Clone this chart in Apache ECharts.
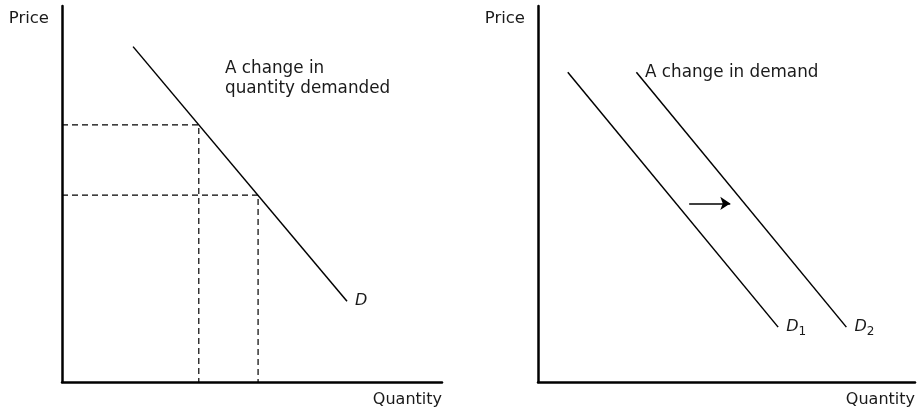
<!DOCTYPE html>
<html>
<head>
<meta charset="utf-8">
<script src="https://cdn.jsdelivr.net/npm/echarts@6/dist/echarts.min.js"></script>
<style>
  html, body { margin: 0; padding: 0; background: #fff; }
  #chart { width: 918px; height: 412px; }
</style>
</head>
<body>
<div id="chart"></div>
<script>
// both panels use a 0..10 price / quantity scale
const axisRange = [0, 10];

// left panel: movement along one demand curve
const demandD = [[1.87, 8.92], [7.5, 2.15]];
const pointA = [3.6, 6.84];
const pointB = [5.16, 4.97];

// right panel: shift of the demand curve
const demandD1 = [[0.79, 8.24], [6.37, 1.46]];
const demandD2 = [[2.61, 8.24], [8.18, 1.46]];
const shiftArrow = [[4.01, 4.75], [5.1, 4.75]];

const axisNames = { x: 'Quantity', y: 'Price' };
const notes = ['A change in\nquantity demanded', 'A change in demand'];

const FONT = 'DejaVu Sans';
const INK = '#1a1a1a';

function dropLines(p) {
    return [[axisRange[0], p[1]], [p[0], p[1]], [p[0], axisRange[0]]];
}

function makeX(idx) {
    return {
        type: 'value', gridIndex: idx, min: axisRange[0], max: axisRange[1],
        name: axisNames.x, nameLocation: 'end', nameGap: 0,
        nameTextStyle: { fontFamily: FONT, fontSize: 16, color: INK, align: 'right', verticalAlign: 'top', padding: [10, 0, 0, 0] },
        axisLine: { show: true, onZero: false, lineStyle: { color: '#000', width: 2.5 } },
        axisTick: { show: false }, axisLabel: { show: false }, splitLine: { show: false }
    };
}
function makeY(idx) {
    return {
        type: 'value', gridIndex: idx, min: axisRange[0], max: axisRange[1],
        name: axisNames.y, nameLocation: 'end', nameGap: 0,
        nameTextStyle: { fontFamily: FONT, fontSize: 16.5, color: INK, align: 'right', verticalAlign: 'top', padding: [4, 13, 0, 0] },
        axisLine: { show: true, onZero: false, lineStyle: { color: '#000', width: 2.5 } },
        axisTick: { show: false }, axisLabel: { show: false }, splitLine: { show: false }
    };
}

const curveLabelRich = {
    i: { fontFamily: FONT, fontSize: 16, fontStyle: 'italic', color: INK },
    s: { fontFamily: FONT, fontSize: 12, color: INK, padding: [9, 0, 0, 0] }
};

function curve(data, idx, label) {
    return {
        type: 'line', xAxisIndex: idx, yAxisIndex: idx, data: data,
        symbol: 'none', silent: true,
        lineStyle: { color: '#000', width: 1.5 },
        endLabel: { show: true, distance: 8, formatter: label, rich: curveLabelRich }
    };
}
function dashed(p) {
    return {
        type: 'line', xAxisIndex: 0, yAxisIndex: 0, data: dropLines(p),
        symbol: 'none', silent: true,
        lineStyle: { color: '#000', width: 1.2, type: [6, 4] }
    };
}

let chart = echarts.init(document.getElementById('chart'));
chart.setOption({
    animation: false,
    textStyle: { fontFamily: FONT },
    grid: [
        { left: 62, top: 6, width: 380, height: 376 },
        { left: 538, top: 6, width: 380, height: 376 }
    ],
    xAxis: [makeX(0), makeX(1)],
    yAxis: [makeY(0), makeY(1)],
    graphic: [
        { type: 'text', left: 225, top: 59, style: { text: notes[0], font: '16.8px "DejaVu Sans"', lineHeight: 20, fill: INK } },
        { type: 'text', left: 645, top: 64, style: { text: notes[1], font: '16.8px "DejaVu Sans"', fill: INK } }
    ],
    series: [
        dashed(pointA),
        dashed(pointB),
        curve(demandD, 0, '{i|D}'),
        curve(demandD1, 1, '{i|D}{s|1}'),
        curve(demandD2, 1, '{i|D}{s|2}'),
        {
            type: 'lines', coordinateSystem: 'cartesian2d', xAxisIndex: 1, yAxisIndex: 1,
            silent: true, symbol: ['none', 'arrow'], symbolSize: 10,
            lineStyle: { color: '#000', width: 1.5, opacity: 1 },
            data: [{ coords: shiftArrow }]
        }
    ]
});
</script>
</body>
</html>
